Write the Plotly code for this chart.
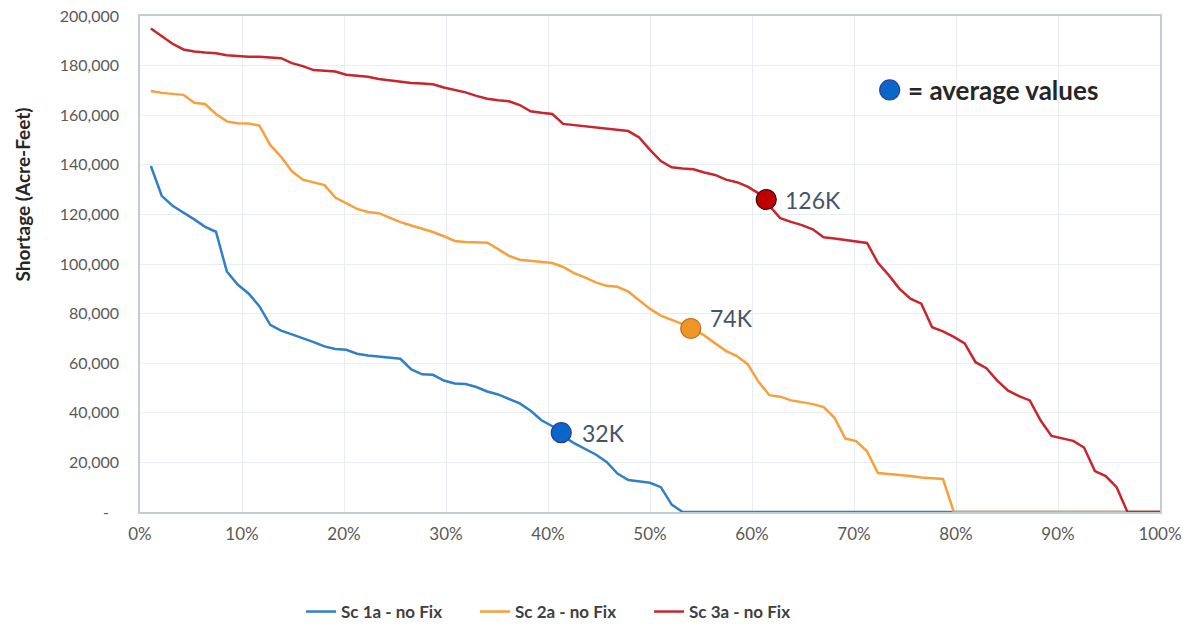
import plotly.graph_objects as go

N_YEARS = 94
exceedance = [i / N_YEARS for i in range(1, N_YEARS + 1)]

sc1a = [139500, 127500, 123500, 120800, 118000, 115000, 113000, 97000, 91700, 88100,
        83000, 75500, 73100, 71600, 70200, 68500, 66800, 65700, 65400, 63800,
        63100, 62700, 62300, 61800, 57500, 55500, 55300, 53000, 51800, 51600,
        50400, 48600, 47400, 45600, 43800, 40800, 37000, 34600, 30500, 27800,
        25500, 23200, 20200, 15500, 12900, 12500, 11800, 10000, 3000, 0,
        0, 0, 0, 0, 0, 0, 0, 0, 0, 0,
        0, 0, 0, 0, 0, 0, 0, 0, 0, 0,
        0, 0, 0, 0, 0, 0, 0, 0, 0, 0,
        0, 0, 0, 0, 0, 0, 0, 0, 0, 0,
        0, 0, 0, 0]

sc2a = [169800, 169000, 168600, 168200, 165000, 164500, 160500, 157500, 156800, 156700,
        155800, 148000, 143200, 137400, 134000, 132800, 131800, 126800, 124600, 122200,
        121000, 120500, 118700, 116900, 115500, 114300, 112900, 111200, 109300, 108900,
        108700, 108600, 106000, 103300, 101700, 101200, 100800, 100400, 98800, 96300,
        94600, 92600, 91200, 90800, 88900, 85400, 81900, 79200, 77400, 75800,
        73600, 71200, 68000, 65000, 62900, 59600, 52500, 47100, 46500, 45000,
        44300, 43500, 42300, 38000, 29600, 28600, 24500, 15700, 15300, 15000,
        14500, 13900, 13500, 13300, 0, 0, 0, 0, 0, 0,
        0, 0, 0, 0, 0, 0, 0, 0, 0, 0,
        0, 0, 0, 0]

sc3a = [195000, 191800, 188800, 186500, 185700, 185300, 185000, 184200, 183800, 183600,
        183600, 183400, 183000, 181000, 179800, 178200, 178000, 177600, 176300, 175800,
        175500, 174600, 174000, 173300, 173000, 172800, 172500, 171200, 170200, 169200,
        167800, 166600, 166000, 165600, 164100, 161600, 161000, 160500, 156500, 156000,
        155500, 155000, 154500, 154000, 153600, 151000, 146000, 141500, 139000, 138500,
        138200, 136900, 135900, 134000, 133000, 131200, 128500, 123500, 118500, 117000,
        115700, 114000, 110800, 110300, 109800, 109300, 108500, 100500, 95500, 90000,
        86000, 84000, 74500, 72800, 70600, 68000, 60400, 58000, 53000, 48900,
        46700, 45000, 36900, 30700, 29700, 28700, 26000, 16500, 14500, 10000,
        0, 0, 0, 0]

series_names = ["Sc 1a - no Fix", "Sc 2a - no Fix", "Sc 3a - no Fix"]
line_colors = ["#2F80C6", "#F7A03C", "#C8262C"]

avg_x = [0.413, 0.540, 0.614]
avg_y = [32000, 74000, 126000]
avg_labels = ["32K", "74K", "126K"]
avg_fill = ["#0A66C8", "#F09528", "#C00000"]
avg_edge = ["#2A3FA0", "#B8701E", "#3A0A0A"]

y_ticks = list(range(0, 200001, 20000))
y_ticktext = ["-\u2002\u2009"] + [f"{v:,}" for v in y_ticks[1:]]

FONT = "Lato, 'Open Sans', sans-serif"

fig = go.Figure()
for name, vals, col in zip(series_names, [sc1a, sc2a, sc3a], line_colors):
    fig.add_trace(go.Scatter(x=exceedance, y=vals, mode="lines", name=name,
                             line=dict(color=col, width=2.5)))

for i in range(3):
    fig.add_trace(go.Scatter(x=[avg_x[i]], y=[avg_y[i]], mode="markers",
                             showlegend=False, hoverinfo="skip",
                             marker=dict(size=20, color=avg_fill[i],
                                         line=dict(color=avg_edge[i], width=1.2))))

label_offsets = [(19, 0), (17, 10), (17, 0)]
for i in range(3):
    dx, dy = label_offsets[i]
    fig.add_annotation(x=avg_x[i], y=avg_y[i], text=avg_labels[i], showarrow=False,
                       xanchor="left", yanchor="middle", xshift=dx, yshift=dy,
                       font=dict(family=FONT, size=23, color="#44546A"))

# "= average values" key
fig.add_shape(type="circle", xref="paper", yref="paper", xsizemode="pixel", ysizemode="pixel",
              xanchor=0.735, yanchor=0.851, x0=-10, x1=10, y0=-10, y1=10,
              fillcolor="#0A66C8", line=dict(color="#2A3FA0", width=1.2))
fig.add_annotation(xref="paper", yref="paper", x=0.751, y=0.851, text="<b>= average values</b>",
                   showarrow=False, xanchor="left", yanchor="middle",
                   font=dict(family=FONT, size=26, color="#262626"))

# y-axis title
fig.add_annotation(xref="paper", yref="paper", x=0, y=0.64, xshift=-117,
                   text="<b>Shortage (Acre-Feet)</b>", textangle=-90, showarrow=False,
                   xanchor="center", yanchor="middle",
                   font=dict(family=FONT, size=19, color="#262626"))

fig.update_layout(
    width=1188, height=628,
    margin=dict(l=140, r=28, t=16, b=116),
    paper_bgcolor="white", plot_bgcolor="white",
    font=dict(family=FONT, size=17, color="#595959"),
    legend=dict(orientation="h", xref="container", yref="container",
                x=0.2534, xanchor="left", y=0.0255, yanchor="middle",
                font=dict(family=FONT, size=17, color="#404040", weight="bold"),
                itemwidth=30, entrywidth=129),
    showlegend=True,
)
fig.update_xaxes(range=[0, 1], tickformat=".0%", dtick=0.1, tick0=0, automargin=False,
                 showgrid=True, gridcolor="#E9ECF1", gridwidth=1,
                 showline=True, linecolor="#C5CBD6", linewidth=1.5, mirror=True,
                 ticks="", zeroline=False, ticklabelstandoff=6, ticklabeloverflow="allow",
                 tickfont=dict(size=17, color="#595959"))
fig.update_yaxes(range=[0, 200000], tickvals=y_ticks, ticktext=y_ticktext, automargin=False,
                 showgrid=True, gridcolor="#E9ECF1", gridwidth=1,
                 showline=True, linecolor="#C5CBD6", linewidth=1.5, mirror=True,
                 ticks="", zeroline=False, ticklabelstandoff=16, ticklabeloverflow="allow",
                 tickfont=dict(size=16, color="#595959"))

# remove the browser's default 8px body margin so the figure fills the window exactly
fig.write_html("out.html", config={"displayModeBar": False},
               post_script="document.body.style.margin='0';document.body.style.overflow='hidden';")
